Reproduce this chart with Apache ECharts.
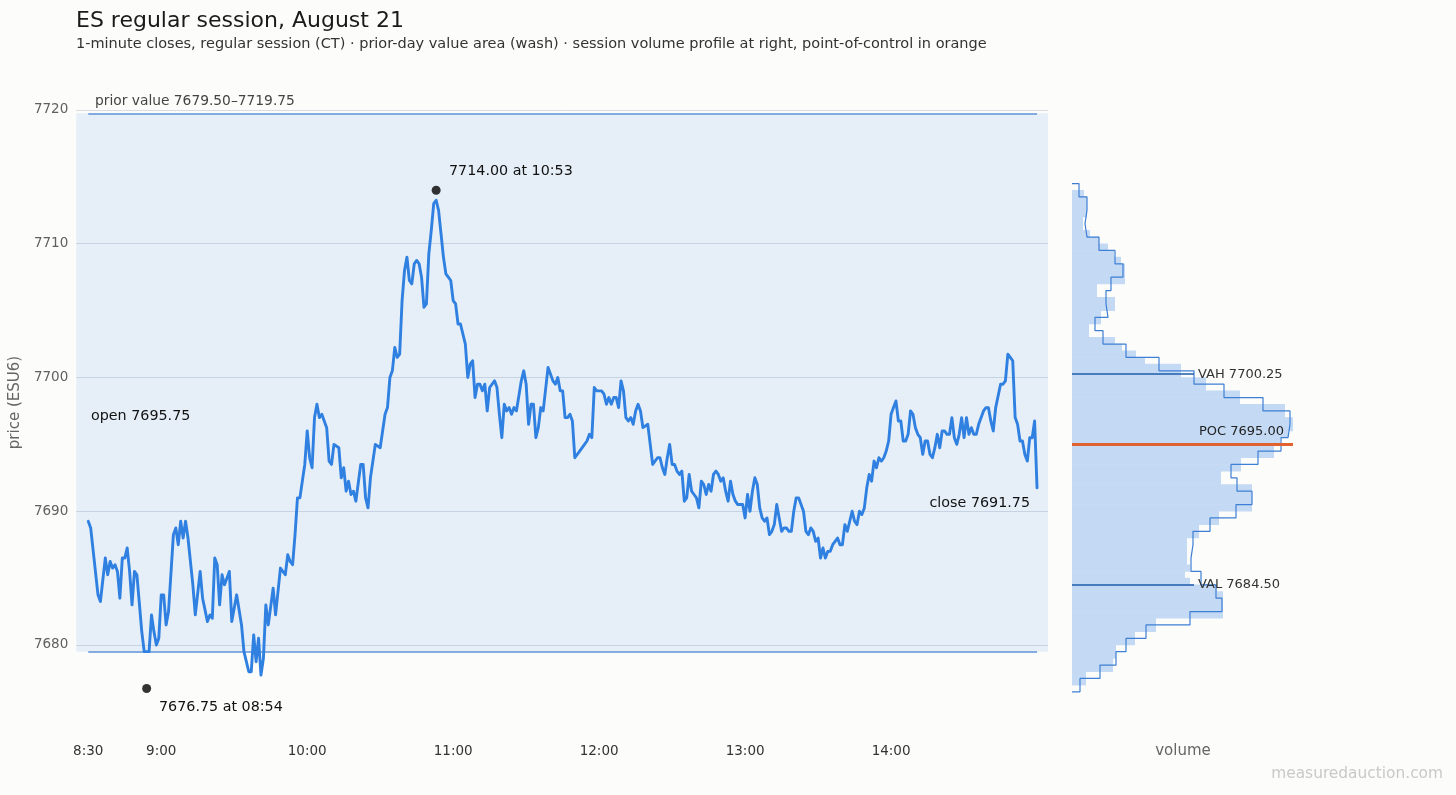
<!DOCTYPE html>
<html>
<head>
<meta charset="utf-8">
<script src="https://cdn.jsdelivr.net/npm/echarts@6/dist/echarts.min.js"></script>
<style>
html,body{margin:0;padding:0;background:#fcfcfa;}
#c{width:1456px;height:795px;}
</style>
</head>
<body>
<div id="c"></div>
<script>
// ---- data ----
// minutes after 08:30 (CT) and 1-minute closes
const sessionMinutes = [0,1,4,5,7,8,9,10,11,12,13,14,15,16,17,18,19,20,22,23,25,26,27,28,29,30,31,32,33,35,36,37,38,39,40,41,43,44,46,47,49,50,51,52,53,54,55,56,58,59,61,63,64,66,67,68,69,70,71,72,73,74,76,77,79,81,82,83,84,85,86,87,88,89,90,91,92,93,94,95,96,98,99,100,101,103,104,105,106,107,108,109,110,112,113,114,115,116,118,120,122,123,124,125,126,127,128,129,130,131,132,133,134,135,136,137,138,139,140,141,142,143,144,145,146,147,148,149,150,151,152,153,155,156,157,158,159,160,161,162,163,164,165,167,168,169,170,171,172,173,174,175,176,178,179,180,181,182,183,184,185,186,187,189,191,192,193,194,195,196,197,198,199,200,202,204,205,206,207,208,209,211,212,213,214,215,216,217,218,219,220,221,222,223,224,225,226,227,228,230,231,232,234,235,236,237,238,239,240,241,242,243,244,245,246,247,248,249,250,251,252,253,254,255,256,257,258,259,260,261,262,263,264,265,266,267,268,269,270,271,272,273,274,275,276,277,278,279,280,281,282,283,284,285,286,287,288,289,290,291,292,293,294,295,296,297,298,299,300,301,302,303,304,305,306,307,308,309,310,311,312,313,314,315,316,317,318,319,320,321,322,323,324,325,326,327,328,329,330,331,332,333,334,335,336,337,338,339,340,341,342,343,344,345,346,347,348,349,350,351,352,353,354,355,356,357,358,359,360,361,362,363,364,365,366,368,369,370,371,372,373,375,376,377,378,379,380,381,382,383,384,385,386,387,388,389,390];
const closes = [7689.25,7688.75,7683.75,7683.25,7686.5,7685.25,7686.25,7685.75,7686.0,7685.5,7683.5,7686.5,7686.5,7687.25,7685.5,7683.0,7685.5,7685.25,7681.0,7679.5,7679.5,7682.25,7681.0,7680.0,7680.5,7683.75,7683.75,7681.5,7682.5,7688.25,7688.75,7687.5,7689.25,7688.0,7689.25,7688.0,7684.5,7682.25,7685.5,7683.5,7681.75,7682.25,7682.0,7686.5,7686.0,7683.0,7685.25,7684.5,7685.5,7681.75,7683.75,7681.5,7679.5,7678.0,7678.0,7680.75,7678.75,7680.5,7677.75,7679.0,7683.0,7681.5,7684.25,7682.25,7685.75,7685.25,7686.75,7686.25,7686.0,7688.25,7691.0,7691.0,7692.25,7693.5,7696.0,7694.0,7693.25,7697.0,7698.0,7697.0,7697.25,7696.25,7693.75,7693.5,7695.0,7694.75,7692.5,7693.25,7691.5,7692.25,7691.25,7691.5,7690.75,7693.5,7693.5,7691.0,7690.25,7692.5,7695.0,7694.75,7697.25,7697.75,7700.0,7700.5,7702.25,7701.5,7701.75,7705.75,7708.0,7709.0,7707.25,7707.0,7708.5,7708.75,7708.5,7707.5,7705.25,7705.5,7709.25,7711.0,7713.0,7713.25,7712.5,7710.75,7709.0,7707.75,7707.5,7707.25,7705.75,7705.5,7704.0,7704.0,7702.5,7700.0,7701.0,7701.25,7698.5,7699.5,7699.5,7699.0,7699.5,7697.5,7699.25,7699.75,7699.25,7697.25,7695.5,7698.0,7697.5,7697.75,7697.25,7697.75,7697.5,7699.75,7700.5,7699.5,7696.5,7698.0,7698.0,7695.5,7696.25,7697.75,7697.5,7700.75,7699.75,7699.5,7700.0,7699.0,7699.0,7697.0,7697.0,7697.25,7696.75,7694.0,7694.5,7695.0,7695.25,7695.75,7695.5,7699.25,7699.0,7699.0,7698.75,7698.0,7698.5,7698.0,7698.5,7698.5,7697.75,7699.75,7699.0,7697.0,7696.75,7697.0,7696.5,7697.5,7698.0,7697.5,7696.25,7696.5,7695.0,7693.5,7694.0,7694.0,7693.25,7692.75,7694.0,7695.0,7693.5,7693.5,7693.0,7692.75,7693.0,7690.75,7691.0,7692.75,7691.5,7691.25,7691.0,7690.25,7692.25,7692.0,7691.25,7692.0,7691.5,7692.75,7693.0,7692.75,7692.25,7692.5,7691.5,7690.75,7692.25,7691.25,7690.75,7690.5,7690.5,7690.5,7689.5,7691.25,7690.0,7691.5,7692.5,7692.0,7690.25,7689.5,7689.25,7689.5,7688.25,7688.5,7689.0,7690.5,7689.5,7688.5,7688.75,7688.75,7688.5,7688.5,7690.0,7691.0,7691.0,7690.5,7690.0,7688.5,7688.25,7688.75,7688.5,7687.75,7688.0,7686.5,7687.25,7686.5,7687.0,7687.0,7687.5,7687.75,7688.0,7687.5,7687.5,7689.0,7688.5,7689.25,7690.0,7689.25,7689.0,7690.0,7689.75,7690.25,7691.75,7692.75,7692.25,7693.75,7693.25,7694.0,7693.75,7694.0,7694.5,7695.25,7697.25,7697.75,7698.25,7696.75,7696.75,7695.25,7695.25,7695.75,7697.5,7697.25,7696.25,7695.75,7695.5,7694.25,7695.25,7695.25,7694.25,7694.0,7694.75,7695.75,7694.75,7696.0,7696.0,7695.75,7695.75,7697.0,7695.5,7695.0,7695.75,7697.0,7695.5,7697.0,7695.75,7696.25,7695.75,7695.75,7696.5,7697.5,7697.75,7697.75,7696.75,7696.0,7697.75,7699.5,7699.5,7699.75,7701.75,7701.5,7701.25,7697.0,7696.5,7695.25,7695.25,7694.25,7693.75,7695.5,7695.5,7696.75,7691.75];

// session extremes (minute after 08:30, price)
const sessionHigh = [143, 7714.00];   // 10:53
const sessionLow  = [24, 7676.75];    // 08:54

// prior-day value area
const priorVAL = 7679.50, priorVAH = 7719.75;

// session value area and point of control
const vah = 7700.25, poc = 7695.00, val = 7684.50;

// volume profile, half-point bins [price, price+0.5] (filled bars)
const fillBinLow = [7677,7677.5,7678,7678.5,7679,7679.5,7680,7680.5,7681,7681.5,7682,7682.5,7683,7683.5,7684,7684.5,7685,7685.5,7686,7686.5,7687,7687.5,7688,7688.5,7689,7689.5,7690,7690.5,7691,7691.5,7692,7692.5,7693,7693.5,7694,7694.5,7695,7695.5,7696,7696.5,7697,7697.5,7698,7698.5,7699,7699.5,7700,7700.5,7701,7701.5,7702,7702.5,7703,7703.5,7704,7704.5,7705,7705.5,7706,7706.5,7707,7707.5,7708,7708.5,7709,7709.5,7710,7710.5,7711,7711.5,7712,7712.5,7713,7713.5];
const fillVolume = [14,14,41,41,44,44,63,63,84,84,151,151,151,151,145,118,113,118,115,115,115,115,127,127,147,147,180,180,180,180,149,149,169,169,202,202,208,216,221,221,213,213,168,168,134,134,109,109,73,64,50,43,17,17,29,29,43,43,25,25,53,53,53,49,42,36,27,18,11,11,15,15,15,12];

// volume profile, 1-point bins centred on the price (step outline)
const stepBinMid = [7714,7713,7712,7711,7710,7709,7708,7707,7706,7705,7704,7703,7702,7701,7700,7699,7698,7697,7696,7695,7694,7693,7692,7691,7690,7689,7688,7687,7686,7685,7684,7683,7682,7681,7680,7679,7678,7677];
const stepVolume = [7,15,13,15,27,43,51,39,34,36,23,31,54,87,122,152,191,218,216,209,186,159,165,180,164,138,121,119,119,129,144,150,118,74,54,44,28,8];

// axis ticks
const priceTicks = [7680,7690,7700,7710,7720];
const timeTicks = [0,30,90,150,210,270,330];
const timeTickLabels = ['8:30','9:00','10:00','11:00','12:00','13:00','14:00'];

// ---- build ----
const FONT = 'DejaVu Sans';
const X_MIN = -4.93, X_MAX = 394.5;
const Y_MIN = 7673.27, Y_MAX = 7722.99;

const priceData = sessionMinutes.map((m, i) => [m, closes[i]]);
const fillData = fillBinLow.map((p, i) => [fillVolume[i], p]);
const stepData = [[0, stepBinMid[0] + 0.5]];
stepBinMid.forEach((p, i) => {
  stepData.push([stepVolume[i], p + 0.5]);
  stepData.push([stepVolume[i], p - 0.5]);
});
stepData.push([0, stepBinMid[stepBinMid.length - 1] - 0.5]);

const ann = (x, y, text, extra) => ({
  type: 'text', z: 10,
  style: Object.assign({x: x, y: y, text: text, fill: '#111', font: '14.3px "DejaVu Sans"', textVerticalAlign: 'middle'}, extra || {})
});

const chart = echarts.init(document.getElementById('c'));
const option = {
  backgroundColor: '#fcfcfa',
  animation: false,
  textStyle: {fontFamily: FONT},
  title: {
    text: 'ES regular session, August 21',
    subtext: '1-minute closes, regular session (CT) · prior-day value area (wash) · session volume profile at right, point-of-control in orange',
    left: 71, top: 5, itemGap: 5,
    textStyle: {fontFamily: FONT, fontSize: 22, fontWeight: 'normal', color: '#1a1a1a'},
    subtextStyle: {fontFamily: FONT, fontSize: 14.5, color: '#333'}
  },
  grid: [
    {left: 76, top: 70, width: 972, height: 665},
    {left: 1072, top: 70, width: 222, height: 665}
  ],
  xAxis: [
    {
      type: 'value', gridIndex: 0, min: X_MIN, max: X_MAX,
      axisLine: {show: false}, splitLine: {show: false},
      axisTick: {show: false, customValues: timeTicks},
      axisLabel: {
        customValues: timeTicks, margin: 9,
        color: '#333', fontSize: 13.5, fontFamily: FONT,
        formatter: v => timeTickLabels[timeTicks.indexOf(Math.round(v))] || ''
      }
    },
    {
      type: 'value', gridIndex: 1, min: 0, max: 222,
      axisLine: {show: false}, splitLine: {show: false},
      axisTick: {show: false}, axisLabel: {show: false},
      name: 'volume', nameLocation: 'middle', nameGap: 9,
      nameTextStyle: {color: '#666', fontSize: 15, fontFamily: FONT}
    }
  ],
  yAxis: [
    {
      type: 'value', gridIndex: 0, min: Y_MIN, max: Y_MAX,
      axisLine: {show: false},
      axisTick: {show: false, customValues: priceTicks},
      axisLabel: {customValues: priceTicks, margin: 8, color: '#606060', fontSize: 13.5, fontFamily: FONT,
        padding: [3, 0, 0, 0],
        formatter: v => String(Math.round(v))},
      splitLine: {show: true, lineStyle: {color: '#d9dde2', width: 1}},
      name: 'price (ESU6)', nameLocation: 'middle', nameGap: 47,
      nameTextStyle: {color: '#666', fontSize: 15, fontFamily: FONT}
    },
    {
      type: 'value', gridIndex: 1, min: Y_MIN, max: Y_MAX, show: false,
      splitLine: {show: false}
    }
  ],
  series: [
    {
      name: 'close', type: 'line', xAxisIndex: 0, yAxisIndex: 0,
      data: priceData, showSymbol: false, symbol: 'none',
      lineStyle: {color: '#2f80e0', width: 2.9, join: 'round', cap: 'round'},
      z: 5,
      markArea: {
        silent: true,
        itemStyle: {color: 'rgba(40,130,240,0.10)'},
        data: [[{coord: [X_MIN, priorVAL]}, {coord: [X_MAX, priorVAH]}]]
      },
      markLine: {
        silent: true, symbol: 'none', label: {show: false},
        lineStyle: {color: '#5f93d6', width: 1.5, type: 'solid'},
        data: [
          [{coord: [0, priorVAH]}, {coord: [390, priorVAH]}],
          [{coord: [0, priorVAL]}, {coord: [390, priorVAL]}]
        ]
      }
    },
    {
      name: 'extremes', type: 'scatter', xAxisIndex: 0, yAxisIndex: 0,
      data: [sessionHigh, sessionLow], symbolSize: 9,
      itemStyle: {color: '#000'}, z: 6
    },
    {
      name: 'profile', type: 'custom', xAxisIndex: 1, yAxisIndex: 1,
      data: fillData,
      renderItem: function (params, api) {
        const v = api.value(0), lo = api.value(1);
        const a = api.coord([0, lo + 0.5]);
        const b = api.coord([v, lo]);
        return {
          type: 'rect',
          shape: {x: a[0], y: a[1] - 0.3, width: b[0] - a[0], height: b[1] - a[1] + 0.6},
          style: {fill: '#c4d9f3'}
        };
      },
      z: 2
    },
    {
      name: 'profile outline', type: 'line', xAxisIndex: 1, yAxisIndex: 1,
      data: stepData, showSymbol: false, symbol: 'none',
      lineStyle: {color: '#3d7fd4', width: 1.2},
      z: 3,
      markLine: {
        silent: true, symbol: 'none',
        lineStyle: {type: 'solid'},
        data: [
          [{coord: [0, vah], lineStyle: {color: '#1d5cab', width: 1.6, type: 'solid'},
            label: {show: true, position: 'end', distance: 4, formatter: 'VAH 7700.25', color: '#333', fontSize: 13, fontFamily: FONT}},
           {coord: [122, vah]}],
          [{coord: [0, val], lineStyle: {color: '#1d5cab', width: 1.6, type: 'solid'},
            label: {show: true, position: 'end', distance: 4, formatter: 'VAL 7684.50', color: '#333', fontSize: 13, fontFamily: FONT}},
           {coord: [122, val]}],
          [{coord: [0, poc], lineStyle: {color: '#e0622f', width: 3.2, type: 'solid'}, label: {show: false}},
           {coord: [221, poc]}]
        ]
      }
    }
  ],
  graphic: [
    ann(95, 101, 'prior value 7679.50–7719.75', {fill: '#444', font: '13.8px "DejaVu Sans"'}),
    ann(91, 416, 'open 7695.75'),
    ann(1030, 503, 'close 7691.75', {textAlign: 'right'}),
    ann(449, 171, '7714.00 at 10:53'),
    ann(159, 707, '7676.75 at 08:54'),
    ann(1199, 432, 'POC 7695.00', {fill: '#222', font: '13px "DejaVu Sans"'}),
    ann(1443, 774, 'measuredauction.com', {fill: '#c9c9c9', font: '15.4px "DejaVu Sans"', textAlign: 'right'})
  ]
};
chart.setOption(option);
</script>
</body>
</html>
